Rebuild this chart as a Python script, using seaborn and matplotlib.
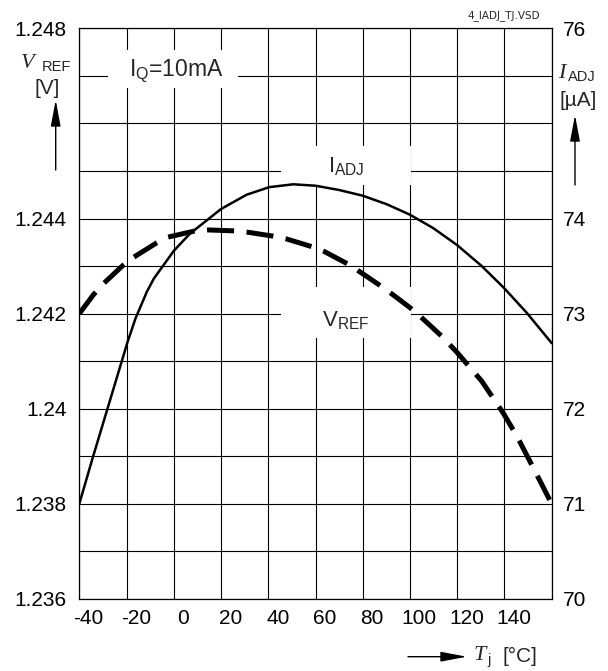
import numpy as np
import pandas as pd
import matplotlib
matplotlib.use("Agg")
import matplotlib.pyplot as plt
from matplotlib.patches import Rectangle, FancyArrowPatch
import seaborn as sns

# ---- data ----
vref_t = [-44, -38, -34, -25.4, -21.2, -11.2, -6.4, 5, 10.6, 22, 27.6, 38, 43.8, 55, 60,
          70.6, 84, 89, 98, 110, 116, 126.4, 135.6, 141.2, 148.2, 156]
vref_v = [1.2420, 1.24240, 1.24262, 1.24302, 1.24318, 1.24349, 1.24361, 1.24374, 1.24376,
          1.24374, 1.24371, 1.24363, 1.24357, 1.24340, 1.24330, 1.24302, 1.24257, 1.24239,
          1.24205, 1.24150, 1.24118, 1.24058, 1.23990, 1.23943, 1.23876, 1.2380]

iadj_t = [-44, -38.5, -32.2, -26.5, -23.6, -20.2, -15.4, -12.4, -4, 2.8, 16, 26.8, 36.4, 46.6,
          56, 66, 76, 86.2, 96, 105.8, 116, 126.4, 135.8, 145.4, 156]
iadj_i = [71.0, 71.47, 71.99, 72.46, 72.70, 72.95, 73.23, 73.37, 73.66, 73.84, 74.10, 74.25, 74.33,
          74.36, 74.345, 74.30, 74.24, 74.15, 74.04, 73.90, 73.72, 73.50, 73.27, 73.01, 72.69]

x_ticks = [-40, -20, 0, 20, 40, 60, 80, 100, 120, 140]
x_labels = ["-40", "-20", "0", "20", "40", "60", "80", "100", "120", "140"]
yl_ticks = [1.236, 1.238, 1.240, 1.242, 1.244, 1.246, 1.248]
yl_labels = ["1.236", "1.238", "1.24", "1.242", "1.244", "", "1.248"]
yr_ticks = [70, 71, 72, 73, 74, 75, 76]
yr_labels = ["70", "71", "72", "73", "74", "", "76"]

sns.set_theme(style="white")
plt.rcParams['font.family'] = ['Liberation Sans', 'DejaVu Sans']
plt.rcParams['lines.scale_dashes'] = False
plt.rcParams['mathtext.fontset'] = 'custom'
plt.rcParams['mathtext.rm'] = 'Liberation Sans'
plt.rcParams['mathtext.it'] = 'Liberation Serif:italic'

W, H = 608, 671
fig = plt.figure(figsize=(W / 100, H / 100), dpi=100)
fig.patch.set_facecolor('white')
L, R, T, B = 79.3, 551.7, 28.3, 599.0
ax = fig.add_axes([L / W, 1 - B / H, (R - L) / W, (B - T) / H])
ax.set_facecolor('white')

def P(px, py):
    return (px / W, 1 - py / H)

ax.set_xlim(-44, 156)
ax.set_ylim(1.236, 1.248)
ax.set_xticks(x_ticks)
ax.set_xticklabels(x_labels)
ax.set_xticks(np.arange(-44, 157, 20), minor=True)
ax.set_yticks(yl_ticks)
ax.set_yticklabels(yl_labels)
ax.set_yticks(np.arange(1.237, 1.248, 0.002), minor=True)
ax.tick_params(axis='x', which='both', length=0, labelsize=15, pad=7, colors='black')
ax.tick_params(axis='y', which='both', length=0, labelsize=15, pad=9, colors='black')
ax.set_axisbelow(True)
ax.grid(False)
ax.xaxis.grid(True, which='minor', color='black', lw=0.8)
ax.yaxis.grid(True, which='both', color='black', lw=0.8)
for s in ax.spines.values():
    s.set_color('black')
    s.set_linewidth(0.9)

# white boxes behind labels
def box(x0, x1, y0, y1):
    ax.add_patch(Rectangle(((x0 - L) / (R - L), (B - y1) / (B - T)),
                           (x1 - x0) / (R - L), (y1 - y0) / (B - T),
                           transform=ax.transAxes, facecolor='white', edgecolor='none', zorder=1))
box(108, 238, 50, 88)
box(281, 410.5, 146, 185)
box(281, 410.5, 287, 338)

df_v = pd.DataFrame({"T": vref_t, "V": vref_v})
sns.lineplot(data=df_v, x="T", y="V", ax=ax, color='black', lw=3.6,
             linestyle=(0, (19.5, 9.0)), dash_capstyle='butt', zorder=3)
ax.set_xlabel("")
ax.set_ylabel("")

ax2 = ax.twinx()
ax2.set_ylim(70, 76)
ax2.set_yticks(yr_ticks)
ax2.set_yticklabels(yr_labels)
ax2.tick_params(axis='y', length=0, labelsize=15, pad=8, colors='black')
ax2.grid(False)
for s in ax2.spines.values():
    s.set_visible(False)
df_i = pd.DataFrame({"T": iadj_t, "I": iadj_i})
sns.lineplot(data=df_i, x="T", y="I", ax=ax2, color='black', lw=1.8, zorder=3)
ax2.set_ylabel("")
ax2.set_xlabel("")

# in-plot labels
ax.text((176 - L) / (R - L), (B - 71) / (B - T), r"I$_\mathregular{Q}$=10mA",
        transform=ax.transAxes, ha='center', va='center', fontsize=16.5, zorder=5)
ax.text((346 - L) / (R - L), (B - 166) / (B - T), r"I$_\mathregular{ADJ}$",
        transform=ax.transAxes, ha='center', va='center', fontsize=16, zorder=5)
ax.text((346 - L) / (R - L), (B - 320) / (B - T), r"V$_\mathregular{REF}$",
        transform=ax.transAxes, ha='center', va='center', fontsize=16, zorder=5)

# axis titles
fig.text(*P(28, 64), "V", family='Liberation Serif', style='italic', fontsize=16, ha='center', va='center')
fig.text(*P(56.5, 67), "REF", fontsize=10.5, ha='center', va='center')
fig.text(*P(47, 89), "[V]", fontsize=15, ha='center', va='center')
fig.text(*P(561.5, 74), "I", family='Liberation Serif', style='italic', fontsize=16, ha='center', va='center')
fig.text(*P(582, 77), "ADJ", fontsize=10.5, ha='center', va='center')
fig.text(*P(578, 101), "[µA]", fontsize=15, ha='center', va='center')
fig.text(*P(504, 16), "4_IADJ_TJ.VSD", family='DejaVu Sans', fontsize=7.5, ha='center', va='center')
fig.text(*P(480, 655), "T", family='Liberation Serif', style='italic', fontsize=16, ha='center', va='center')
fig.text(*P(489.5, 660), "j", fontsize=10.5, ha='center', va='center')
fig.text(*P(520, 656), "[°C]", fontsize=15, ha='center', va='center')

arrow = dict(arrowstyle='-|>,head_length=1.6,head_width=0.3', color='black', lw=1.0,
             mutation_scale=10, shrinkA=0, shrinkB=0)
fig.add_artist(FancyArrowPatch(P(55.7, 170), P(55.7, 100), transform=fig.transFigure, **arrow))
fig.add_artist(FancyArrowPatch(P(575, 185), P(575, 115), transform=fig.transFigure, **arrow))
fig.add_artist(FancyArrowPatch(P(408, 656.7), P(467, 656.7), transform=fig.transFigure, **arrow))

fig.savefig("out.png", dpi=100, facecolor='white')
